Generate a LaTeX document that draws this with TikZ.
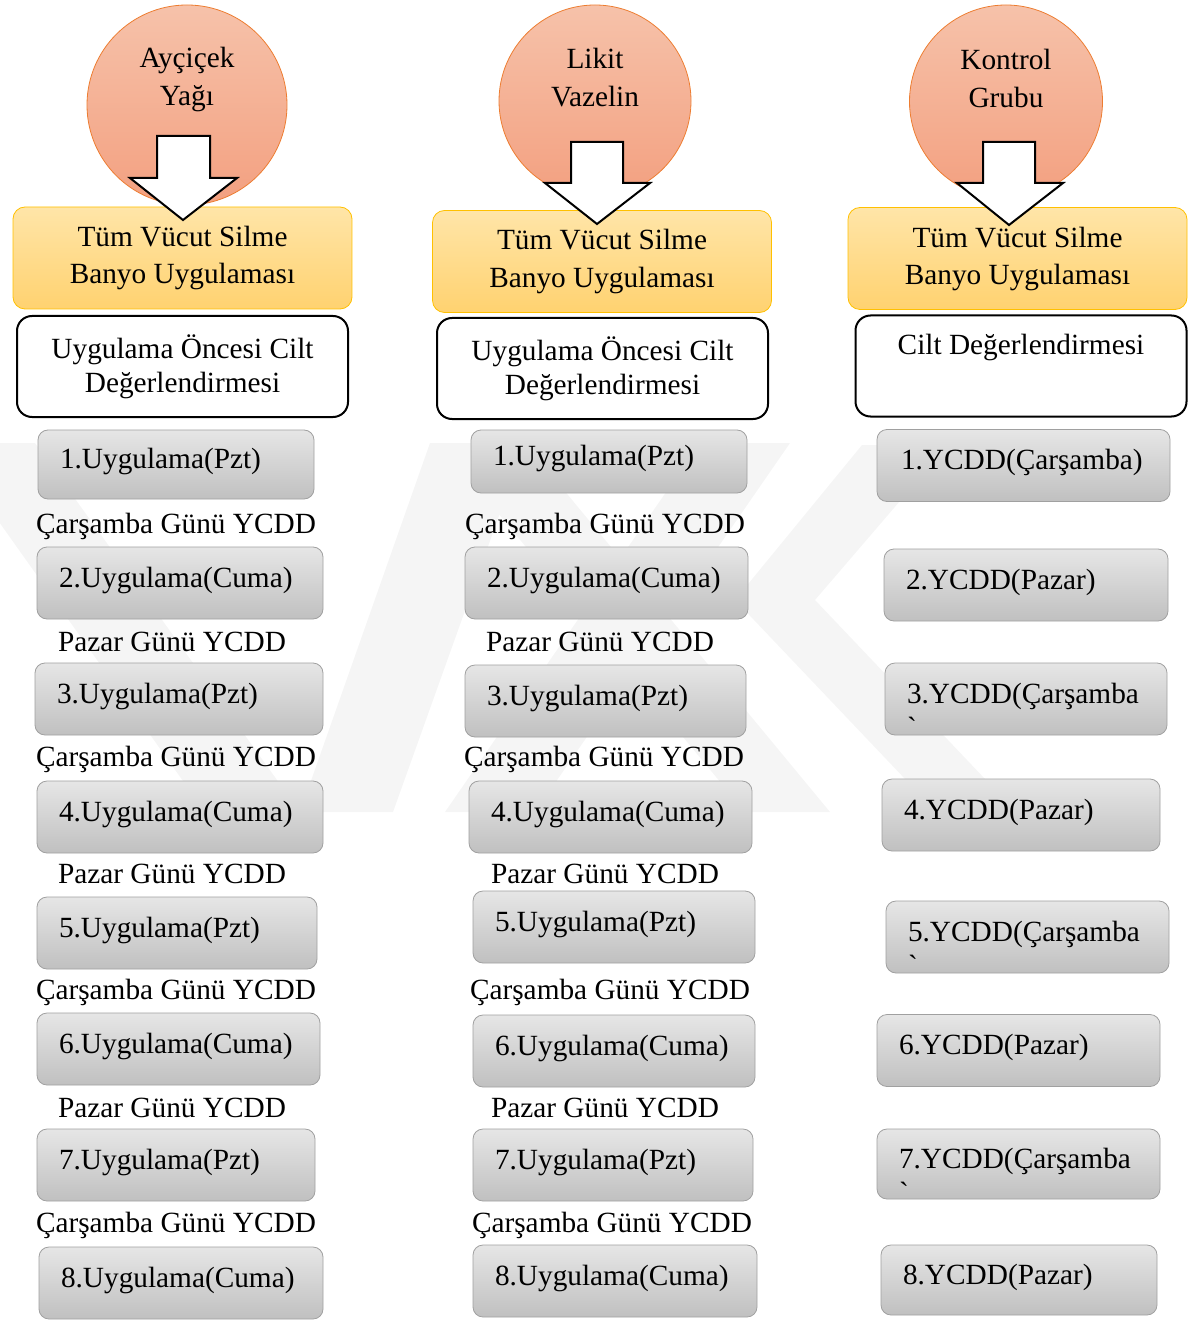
\documentclass[tikz,border=0pt]{standalone}
\usepackage{fontspec}
\setmainfont{Liberation Serif}

\definecolor{circline}{RGB}{237,125,49}
\definecolor{circtop}{RGB}{246,194,170}
\definecolor{circbot}{RGB}{243,160,128}
\definecolor{yelline}{RGB}{255,192,0}
\definecolor{yeltop}{RGB}{255,229,168}
\definecolor{yelbot}{RGB}{255,210,112}
\definecolor{grayline}{RGB}{160,160,160}
\definecolor{graytop}{RGB}{230,230,230}
\definecolor{graybot}{RGB}{192,192,192}

\begin{document}
\begin{tikzpicture}[x=0.5pt, y=-0.5pt, font=\fontsize{14.65pt}{17pt}\selectfont,
  grupcircle/.style={circle, draw=circline, top color=circtop, bottom color=circbot, minimum size=#1, inner sep=0pt},
  grupname/.style={align=center, font=\fontsize{14.65pt}{19pt}\selectfont},
  banyobox/.style={draw=yelline, rounded corners=6pt, top color=yeltop, bottom color=yelbot, minimum width=169.5pt, minimum height=51pt, align=center, font=\fontsize{14.65pt}{18.5pt}\selectfont},
  ciltbox/.style={draw, line width=1pt, rounded corners=7.5pt, fill=white, minimum width=165.5pt, minimum height=50.5pt, align=center},
  graybox/.style={draw=grayline, rounded corners=5pt, top color=graytop, bottom color=graybot, minimum height=36pt, text width=#1, align=left, inner xsep=11pt, text height=10pt, text depth=6pt},
  blockarrow/.style={draw, line width=1pt, fill=white, line join=miter},
  logo/.style={fill=black!4, draw=none}]
\useasboundingbox (0,0) rectangle (1189,1320);

\begin{scope}
\clip (0,0) rectangle (1189,1320);
\fill[logo] (-57,443) -- (35,443) -- (300,812) -- (205,812) -- cycle;
\fill[logo] (430,443) -- (525,443) -- (393,812) -- (300,812) -- cycle;
\fill[logo] (440,443) -- (525,443) -- (830,812) -- (745,812) -- cycle;
\fill[logo] (700,443) -- (790,443) -- (535,812) -- (445,812) -- cycle;
\fill[logo] (862,445) -- (948,445) -- (815,600) -- (1005,800) -- (925,800) -- (735,600) -- cycle;
\end{scope}

\node[grupcircle=100pt] (ayc) at (187,105) {};
\node[grupcircle=96pt] (lik) at (595,101) {};
\node[grupcircle=96.5pt] (kont) at (1006,101.5) {};
\node[grupname] (aycname) at (187,80) {Ayçiçek\\Yağı};
\node[grupname] (likname) at (595,78) {Likit\\Vazelin};
\node[grupname] (kontname) at (1006,78) {Kontrol\\Grubu};

\node[banyobox] (banyoA) at (182.5,258) {Tüm Vücut Silme\\Banyo Uygulaması};
\node[banyobox] (banyoB) at (602,261.5) {Tüm Vücut Silme\\Banyo Uygulaması};
\node[banyobox] (banyoC) at (1017.5,258.5) {Tüm Vücut Silme\\Banyo Uygulaması};

\draw[blockarrow] (157,136) -- (210,136) -- (210,178) -- (237,178) -- (183,220) -- (130,178) -- (157,178) -- cycle;
\draw[blockarrow] (571,142) -- (623,142) -- (623,183) -- (650,183) -- (597,224) -- (545,183) -- (571,183) -- cycle;
\draw[blockarrow] (983,142) -- (1035,142) -- (1035,183) -- (1063,183) -- (1009,225) -- (957,183) -- (983,183) -- cycle;

\node[ciltbox] (ciltA) at (182.5,366.5) {Uygulama Öncesi Cilt\\Değerlendirmesi};
\node[ciltbox] (ciltB) at (602.5,368.5) {Uygulama Öncesi Cilt\\Değerlendirmesi};
\node[ciltbox] (ciltC) at (1021,366) {Cilt Değerlendirmesi\\\strut};

\node[graybox=116pt, minimum height=34.5pt] (uA1) at (176,464.5) {1.Uygulama(Pzt)};
\node[graybox=121pt] (uA2) at (180,583) {2.Uygulama(Cuma)};
\node[graybox=122pt] (uA3) at (179,699) {3.Uygulama(Pzt)};
\node[graybox=121pt] (uA4) at (180,817) {4.Uygulama(Cuma)};
\node[graybox=118pt] (uA5) at (177,933) {5.Uygulama(Pzt)};
\node[graybox=119.5pt] (uA6) at (178.5,1049) {6.Uygulama(Cuma)};
\node[graybox=117pt] (uA7) at (176,1165) {7.Uygulama(Pzt)};
\node[graybox=120pt] (uA8) at (181,1283) {8.Uygulama(Cuma)};

\node (gunA1) at (176,526) {Çarşamba Günü YCDD};
\node (gunA2) at (172,642) {Pazar Günü YCDD};
\node (gunA3) at (176,759) {Çarşamba Günü YCDD};
\node (gunA4) at (172,874) {Pazar Günü YCDD};
\node (gunA5) at (176,992) {Çarşamba Günü YCDD};
\node (gunA6) at (172,1108) {Pazar Günü YCDD};
\node (gunA7) at (176,1225) {Çarşamba Günü YCDD};

\node[graybox=116pt, minimum height=31.5pt] (uB1) at (609,461.5) {1.Uygulama(Pzt)};
\node[graybox=119.5pt] (uB2) at (606.5,583) {2.Uygulama(Cuma)};
\node[graybox=118.5pt] (uB3) at (605.5,701) {3.Uygulama(Pzt)};
\node[graybox=119.5pt] (uB4) at (610.5,817) {4.Uygulama(Cuma)};
\node[graybox=119pt] (uB5) at (614,927) {5.Uygulama(Pzt)};
\node[graybox=119pt] (uB6) at (614,1051) {6.Uygulama(Cuma)};
\node[graybox=118pt] (uB7) at (613,1165) {7.Uygulama(Pzt)};
\node[graybox=120pt] (uB8) at (615,1281) {8.Uygulama(Cuma)};

\node (gunB1) at (605,526) {Çarşamba Günü YCDD};
\node (gunB2) at (600,642) {Pazar Günü YCDD};
\node (gunB3) at (604,759) {Çarşamba Günü YCDD};
\node (gunB4) at (605,874) {Pazar Günü YCDD};
\node (gunB5) at (610,992) {Çarşamba Günü YCDD};
\node (gunB6) at (605,1108) {Pazar Günü YCDD};
\node (gunB7) at (612,1225) {Çarşamba Günü YCDD};

\node[graybox=122.5pt, inner xsep=12pt] (yC1) at (1023.5,465.5) {1.YCDD(Çarşamba)};
\node[graybox=120pt] (yC2) at (1026,585) {2.YCDD(Pazar)};
\node[graybox=119pt] (yC3) at (1026,699) {3.YCDD(Çarşamba\\\textasciigrave};
\node[graybox=117pt] (yC4) at (1021,815) {4.YCDD(Pazar)};
\node[graybox=119.5pt] (yC5) at (1027.5,937) {5.YCDD(Çarşamba\\\textasciigrave};
\node[graybox=119.5pt] (yC6) at (1018.5,1050.5) {6.YCDD(Pazar)};
\node[graybox=119.5pt, minimum height=35pt] (yC7) at (1018.5,1164) {7.YCDD(Çarşamba\\\textasciigrave};
\node[graybox=116pt, minimum height=35pt] (yC8) at (1019,1280) {8.YCDD(Pazar)};
\end{tikzpicture}
\end{document}
